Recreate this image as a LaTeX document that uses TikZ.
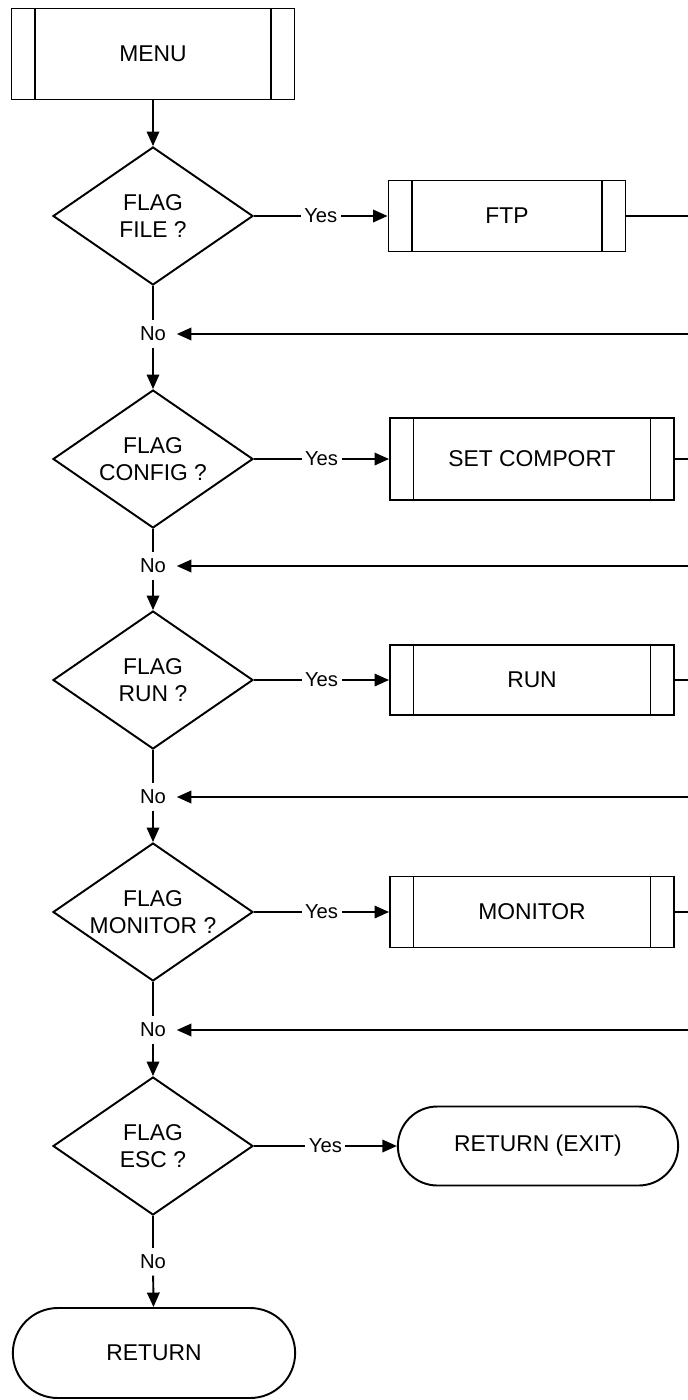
\documentclass[tikz,border=0pt]{standalone}
\usepackage{fontspec}
\setmainfont{Liberation Sans}
\usetikzlibrary{arrows.meta,positioning,shapes.geometric,shapes.misc}
\tikzset{
  bodytext/.style={font=\fontsize{13}{15.5}\selectfont},
  procbox/.style={draw, rectangle, line width=1.1pt, inner sep=0pt, bodytext,
                  path picture={
                    \draw[line width=1.1pt]
                      ([xshift=4.7mm]path picture bounding box.north west) --
                      ([xshift=4.7mm]path picture bounding box.south west);
                    \draw[line width=1.1pt]
                      ([xshift=-4.7mm]path picture bounding box.north east) --
                      ([xshift=-4.7mm]path picture bounding box.south east);
                  }},
  decide/.style={draw, diamond, line width=1.1pt, inner sep=0pt,
                 minimum width=40mm, minimum height=27.6mm},
  dtext/.style={bodytext, align=center, inner sep=0pt},
  term/.style={draw, rounded rectangle, line width=1.1pt, bodytext},
  yeslabel/.style={font=\fontsize{11.5}{13}\selectfont, fill=white, inner xsep=2pt},
  nolabel/.style={font=\fontsize{11.5}{13}\selectfont, inner xsep=6pt, inner ysep=3.5pt},
  flow/.style={-{Triangle[length=2.9mm,width=2.5mm]}, line width=1.1pt},
  link/.style={line width=1.1pt},
}
\begin{document}
\begin{tikzpicture}[x=0.2mm,y=-0.2mm]
  \useasboundingbox (0,0) rectangle (688,1400);

  % ---- Main column ----
  \node[procbox, minimum width=56.6mm, minimum height=18.2mm] (menu) at (153,54) {MENU};
  \node[decide, label={[dtext]center:FLAG\\FILE ?}]    (qfile)   at (153,216)  {};
  \node[decide, label={[dtext]center:FLAG\\CONFIG ?}]  (qconfig) at (153,459)  {};
  \node[decide, label={[dtext]center:FLAG\\RUN ?}]     (qrun)    at (153,680)  {};
  \node[decide, label={[dtext]center:FLAG\\MONITOR ?}] (qmon)    at (153,912)  {};
  \node[decide, label={[dtext]center:FLAG\\ESC ?}]     (qesc)    at (153,1146) {};
  \node[term, minimum width=58.8mm, minimum height=18mm] (ret) at (154,1353) {RETURN};

  % ---- No labels on the main line ----
  \node[nolabel] (no1) at (153,334)  {No};
  \node[nolabel] (no2) at (153,566)  {No};
  \node[nolabel] (no3) at (153,797)  {No};
  \node[nolabel] (no4) at (153,1030) {No};
  \node[nolabel] (no5) at (153,1262) {No};

  % ---- Sub-procedures (right) ----
  \node[procbox, minimum width=47.4mm, minimum height=14.2mm] (ftp)     at (507,216) {FTP};
  \node[procbox, minimum width=56.8mm, minimum height=16.4mm] (comport) at (532,459) {SET COMPORT};
  \node[procbox, minimum width=56.8mm, minimum height=14mm]   (run)     at (532,680) {RUN};
  \node[procbox, minimum width=56.8mm, minimum height=14.2mm] (monitor) at (532,912) {MONITOR};
  \node[term, minimum width=58.4mm, minimum height=15.8mm]    (exit)    at (538,1146) {RETURN (EXIT)};

  % ---- Loose ends at the right border ----
  \coordinate (ftpout)  at (688,216);
  \coordinate (ftpback) at (688,334);
  \coordinate (comout)  at (688,459);
  \coordinate (comback) at (688,566);
  \coordinate (runout)  at (688,680);
  \coordinate (runback) at (688,797);
  \coordinate (monout)  at (688,912);
  \coordinate (monback) at (688,1030);

  % ---- Arrows ----
  \draw[flow] (menu) -- (qfile);

  \draw[flow] (qfile) -- node[yeslabel] {Yes} (ftp);
  \draw[link] (ftp) -- (ftpout);
  \draw[flow] (ftpback) -- (no1);
  \draw[link] (qfile) -- (no1);
  \draw[flow] (no1) -- (qconfig);

  \draw[flow] (qconfig) -- node[yeslabel] {Yes} (comport);
  \draw[link] (comport) -- (comout);
  \draw[flow] (comback) -- (no2);
  \draw[link] (qconfig) -- (no2);
  \draw[flow] (no2) -- (qrun);

  \draw[flow] (qrun) -- node[yeslabel] {Yes} (run);
  \draw[link] (run) -- (runout);
  \draw[flow] (runback) -- (no3);
  \draw[link] (qrun) -- (no3);
  \draw[flow] (no3) -- (qmon);

  \draw[flow] (qmon) -- node[yeslabel] {Yes} (monitor);
  \draw[link] (monitor) -- (monout);
  \draw[flow] (monback) -- (no4);
  \draw[link] (qmon) -- (no4);
  \draw[flow] (no4) -- (qesc);

  \draw[flow] (qesc) -- node[yeslabel] {Yes} (exit);
  \draw[link] (qesc) -- (no5);
  \draw[flow] (no5) -- (ret);

\end{tikzpicture}
\end{document}
